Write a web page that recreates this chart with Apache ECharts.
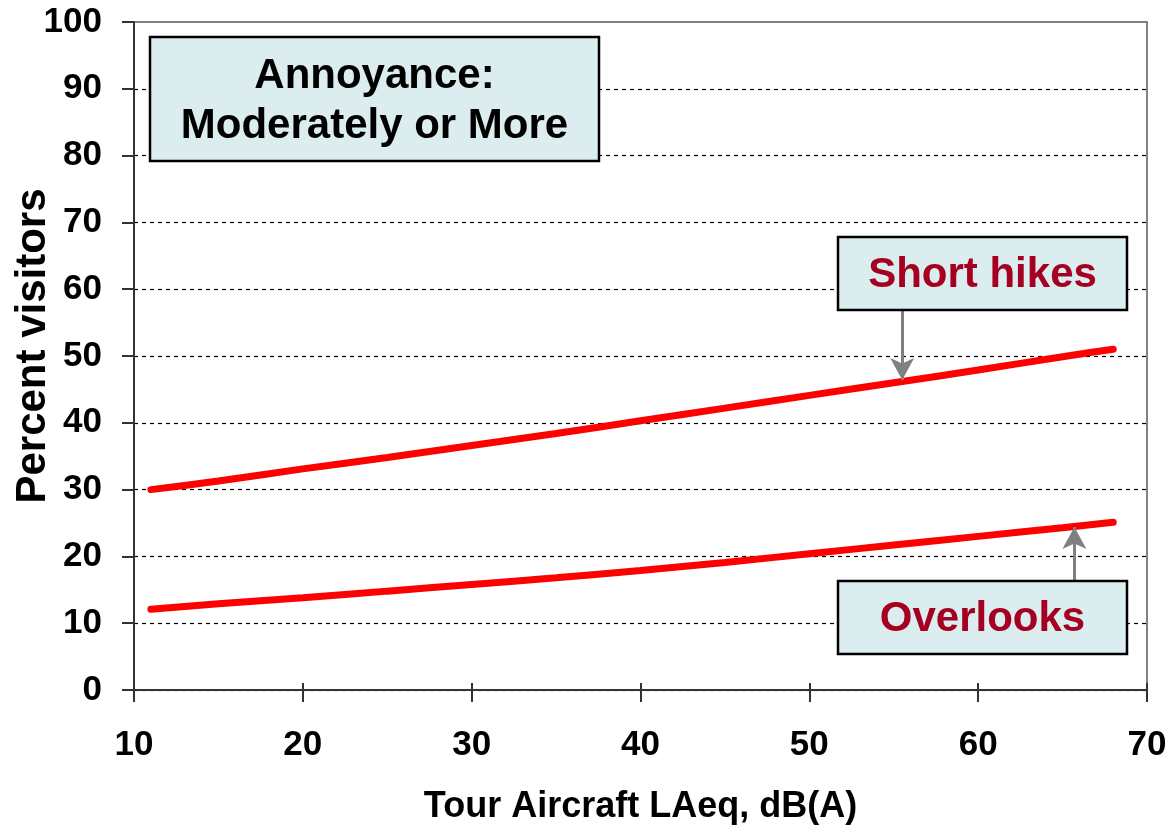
<!DOCTYPE html>
<html>
<head>
<meta charset="utf-8">
<script src="https://cdn.jsdelivr.net/npm/echarts@6/dist/echarts.min.js"></script>
<style>
  html, body { margin: 0; padding: 0; background: #fff; }
  #chart { width: 1173px; height: 827px; }
</style>
</head>
<body>
<div id="chart"></div>
<script>
// x values (dB) where the curves are read
const levels = [11, 15, 20, 25, 30, 35, 40, 45, 50, 55, 60, 65, 68];
// percent annoyed, moderately or more
const shortHikes = [30.0, 31.3, 33.1, 34.8, 36.6, 38.4, 40.3, 42.2, 44.1, 46.0, 47.9, 49.9, 51.0];
const overlooks = [12.1, 12.9, 13.8, 14.8, 15.8, 16.8, 17.9, 19.1, 20.4, 21.7, 23.0, 24.3, 25.1];
const xTicks = [10, 20, 30, 40, 50, 60, 70];
const yTicks = [0, 10, 20, 30, 40, 50, 60, 70, 80, 90, 100];
// arrow ends for the callout boxes [x, y]
const hikesArrow = [[55.5, 56.9], [55.5, 46.4]];
const overlookArrow = [[65.7, 16.3], [65.7, 24.4]];

let chart = echarts.init(document.getElementById('chart'));
const font = '"Liberation Sans", Arial, sans-serif';
const red = '#a50021';

function pairs(xs, ys) {
    return xs.map((x, i) => [x, ys[i]]);
}

// grid lines: black dashed, hide the top one (border shows there)
let gridColors = yTicks.map((v, i) => i === yTicks.length - 1 ? 'transparent' : '#000');

function arrowLine(pts) {
    return [[
        { coord: pts[0], symbol: 'none' },
        { coord: pts[1], symbol: 'arrow', symbolSize: [18, 22] }
    ]];
}

function calloutBox(x, y, w, h, text, color) {
    return {
        type: 'group',
        z: 100,
        children: [
            {
                type: 'rect',
                z: 100,
                shape: { x: x, y: y, width: w, height: h },
                style: { fill: '#dbedee', stroke: '#000', lineWidth: 2.5 }
            },
            {
                type: 'text',
                z: 101,
                x: x + w / 2,
                y: y + h / 2 + 2,
                style: {
                    text: text,
                    fill: color,
                    font: 'bold 42px ' + font,
                    align: 'center',
                    verticalAlign: 'middle',
                    lineHeight: 50
                }
            }
        ]
    };
}

let option = {
    animation: false,
    grid: {
        left: 134,
        right: 26,
        top: 22,
        bottom: 137,
        show: true,
        borderColor: '#808080',
        borderWidth: 2,
        containLabel: false,
        outerBoundsMode: 'none'
    },
    xAxis: [
        {
            type: 'value',
            min: 10,
            max: 70,
            interval: 10,
            name: 'Tour Aircraft LAeq, dB(A)',
            nameLocation: 'middle',
            nameGap: 99,
            nameMoveOverlap: false,
            nameTextStyle: { fontFamily: font, fontWeight: 'bold', fontSize: 36, color: '#000' },
            axisLine: { onZero: false, lineStyle: { color: '#333', width: 2 } },
            axisTick: { show: true, length: 12, lineStyle: { color: '#333', width: 2 } },
            axisLabel: {
                fontFamily: font, fontWeight: 'bold', fontSize: 35, color: '#000', margin: 38,
                formatter: v => xTicks.indexOf(v) >= 0 ? String(v) : ''
            },
            splitLine: { show: false }
        },
        {
            type: 'value',
            position: 'bottom',
            min: 10,
            max: 70,
            interval: 10,
            axisLine: { show: false },
            axisTick: { show: true, inside: true, length: 7, lineStyle: { color: '#333', width: 2 } },
            axisLabel: { show: false },
            splitLine: { show: false }
        }
    ],
    yAxis: {
        type: 'value',
        min: 0,
        max: 100,
        interval: 10,
        axisLine: { show: true, onZero: false, lineStyle: { color: '#333', width: 2 } },
        axisTick: { show: true, length: 12, lineStyle: { color: '#333', width: 2 } },
        axisLabel: {
            fontFamily: font, fontWeight: 'bold', fontSize: 35, color: '#000', margin: 32,
            formatter: v => yTicks.indexOf(v) >= 0 ? String(v) : ''
        },
        splitLine: {
            show: true,
            lineStyle: { color: gridColors, width: 1.2, type: [4, 4] }
        }
    },
    series: [
        {
            name: 'Short hikes',
            type: 'line',
            smooth: true,
            showSymbol: false,
            data: pairs(levels, shortHikes),
            lineStyle: { color: '#ff0000', width: 7, cap: 'round' },
            markLine: {
                silent: true,
                label: { show: false },
                lineStyle: { color: '#808080', width: 3, type: 'solid' },
                itemStyle: { color: '#808080' },
                data: arrowLine(hikesArrow)
            }
        },
        {
            name: 'Overlooks',
            type: 'line',
            smooth: true,
            showSymbol: false,
            data: pairs(levels, overlooks),
            lineStyle: { color: '#ff0000', width: 7, cap: 'round' },
            markLine: {
                silent: true,
                label: { show: false },
                lineStyle: { color: '#808080', width: 3, type: 'solid' },
                itemStyle: { color: '#808080' },
                data: arrowLine(overlookArrow)
            }
        }
    ],
    graphic: [
        // y axis title
        {
            type: 'text',
            x: 33,
            y: 346,
            rotation: Math.PI / 2,
            style: {
                text: 'Percent visitors',
                fill: '#000',
                font: 'bold 42px ' + font,
                align: 'center',
                verticalAlign: 'middle'
            }
        },
        calloutBox(150, 37, 449, 124, 'Annoyance:\nModerately or More', '#000'),
        calloutBox(838, 237, 289, 73, 'Short hikes', red),
        calloutBox(838, 581, 289, 73, 'Overlooks', red)
    ]
};
chart.setOption(option);
</script>
</body>
</html>
